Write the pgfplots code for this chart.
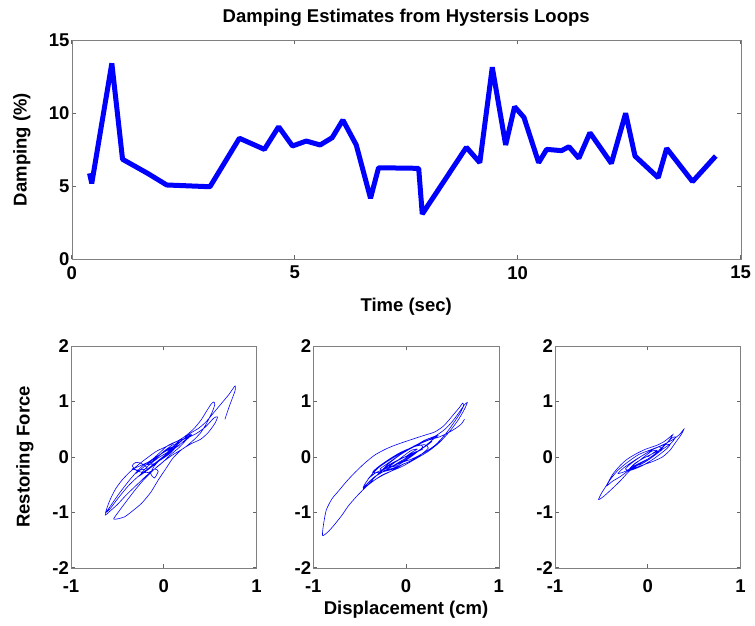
\documentclass[border=0pt]{standalone}
\usepackage{fontspec}
\setmainfont{Liberation Sans}
\usepackage{pgfplots}
\pgfplotsset{compat=1.18}
\pgfplotsset{
  mystyle/.style={
    scale only axis,
    axis line style={black!50},
    every tick/.style={black!60, line width=0.6pt},
    tick align=inside,
    major tick length=4pt,
    tick label style={font=\fontsize{18.5}{20}\selectfont\bfseries},
    xticklabel style={inner sep=2pt},
    yticklabel style={inner sep=2pt},
    label style={font=\fontsize{18.5}{22}\selectfont\bfseries},
    title style={font=\fontsize{18.5}{22}\selectfont\bfseries},
  },
  loopstyle/.style={
    mystyle,
    width=185.5pt, height=221.7pt,
    xmin=-1, xmax=1, ymin=-2, ymax=2,
    xtick={-1,0,1}, xticklabels={-1,0,1},
    ytick={-2,-1,0,1,2}, yticklabels={-2,-1,0,1,2},
    xticklabel style={yshift=-10pt},
  }
}
\begin{document}
\begin{tikzpicture}[x=1pt,y=1pt]
\path[use as bounding box] (0,0) rectangle (755,625);

% ---------- top: damping estimates ----------
\begin{axis}[mystyle,
  at={(71.7pt,366pt)}, anchor=south west,
  width=669pt, height=219pt,
  xmin=0, xmax=15, ymin=0, ymax=15,
  xtick={0,5,10,15}, xticklabels={0,5,10,15},
  ytick={0,5,10,15}, yticklabels={0,5,10,15},
  xticklabel style={yshift=-5pt},
  title={Damping Estimates from Hystersis Loops},
  title style={at={(axis description cs:0.5,1.075)}, anchor=center},
  xlabel={Time (sec)},
  xlabel style={at={(axis description cs:0.5,-0.22)}, anchor=center},
  ylabel={Damping (\%)},
  ylabel style={at={(axis description cs:-0.0743,0.5)}, anchor=center},
]
\addplot[color={rgb,1:red,0;green,0;blue,1}, line width=5pt, line join=bevel] coordinates {
(0.40,5.87) (0.45,5.18) (0.90,13.4) (1.14,6.83) (1.70,5.87) (2.13,5.07)
(3.10,4.95) (3.76,8.27) (4.32,7.51) (4.64,9.06) (4.95,7.74) (5.26,8.08)
(5.57,7.81) (5.84,8.31) (6.08,9.52) (6.38,7.81) (6.70,4.16) (6.88,6.25)
(7.78,6.21) (7.86,3.08) (8.85,7.65) (9.15,6.60) (9.43,13.13) (9.73,7.81)
(9.93,10.43) (10.14,9.70) (10.47,6.60) (10.65,7.51) (10.98,7.42) (11.15,7.69)
(11.37,6.90) (11.62,8.65) (12.10,6.55) (12.42,9.98) (12.63,7.05) (13.15,5.57)
(13.34,7.58) (13.92,5.30) (14.44,7.05)
};
\end{axis}

% ---------- bottom left ----------
\begin{axis}[loopstyle,
  at={(71pt,57.3pt)}, anchor=south west,
  ylabel={Restoring Force},
  ylabel style={at={(axis description cs:-0.248,0.5)}, anchor=center},
]
\addplot[blue, line width=0.6pt, smooth, tension=0.4] coordinates {
(-0.30,-0.30) (-0.20,-0.16) (-0.08,0.00) (0.06,0.14) (0.18,0.28) (0.28,0.38)
(0.20,0.26) (0.08,0.10) (-0.04,-0.06) (-0.16,-0.22) (-0.26,-0.34) (-0.18,-0.18)
(-0.06,-0.02) (0.06,0.10) (0.16,0.20) (0.08,0.16)
(0.00,0.00) (0.06,0.10) (0.10,0.18) (0.04,0.14) (-0.05,0.02) (-0.12,-0.08)
(-0.18,-0.14) (-0.10,-0.12) (0.00,-0.02) (0.08,0.08) (0.14,0.20) (0.10,0.22)
(0.00,0.10) (-0.08,-0.02) (-0.20,-0.12) (-0.28,-0.18) (-0.34,-0.22) (-0.26,-0.24)
(-0.18,-0.20) (-0.24,-0.12) (-0.30,-0.10) (-0.34,-0.16) (-0.28,-0.26) (-0.16,-0.28)
(-0.04,-0.14) (0.06,0.02) (0.16,0.16) (0.24,0.30) (0.30,0.40) (0.22,0.36)
(0.12,0.22) (0.02,0.04) (-0.10,-0.16) (-0.14,-0.30) (-0.10,-0.38) (-0.06,-0.26)
(-0.10,-0.22) (-0.20,-0.36) (-0.30,-0.52) (-0.40,-0.68) (-0.50,-0.86) (-0.58,-0.98)
(-0.63,-1.05) (-0.62,-0.96) (-0.58,-0.78) (-0.52,-0.58) (-0.45,-0.42) (-0.37,-0.28)
(-0.28,-0.15) (-0.18,-0.02) (-0.08,0.10) (0.02,0.18) (0.12,0.26) (0.22,0.36)
(0.32,0.50) (0.40,0.66) (0.46,0.82) (0.51,0.95) (0.54,0.99) (0.55,0.94)
(0.52,0.80) (0.46,0.60) (0.40,0.44) (0.32,0.30) (0.22,0.16) (0.10,0.04)
(0.00,-0.08) (-0.10,-0.22) (-0.22,-0.42) (-0.32,-0.62) (-0.42,-0.84) (-0.50,-1.02)
(-0.54,-1.12) (-0.50,-1.12) (-0.42,-1.08) (-0.34,-0.98) (-0.24,-0.84) (-0.14,-0.64)
(-0.06,-0.42) (0.02,-0.22) (0.10,-0.02) (0.20,0.14) (0.30,0.24) (0.40,0.32)
(0.48,0.44) (0.55,0.60) (0.58,0.72) (0.54,0.70) (0.45,0.54) (0.35,0.42)
(0.25,0.34) (0.14,0.28) (0.04,0.20) (-0.04,0.08) (-0.12,-0.04) (-0.24,-0.18)
(-0.36,-0.40) (-0.48,-0.66) (-0.58,-0.90) (-0.62,-1.00) (-0.58,-0.94) (-0.48,-0.72)
(-0.38,-0.52) (-0.28,-0.36) (-0.16,-0.20) (-0.04,-0.04) (0.08,0.12) (0.16,0.24)
(0.24,0.36) (0.30,0.44) (0.38,0.52) (0.46,0.64) (0.54,0.80) (0.62,0.96)
(0.70,1.12) (0.75,1.24) (0.77,1.28) (0.77,1.20) (0.74,1.06) (0.70,0.88) (0.66,0.68)
};
\end{axis}

% ---------- bottom middle ----------
\begin{axis}[loopstyle,
  at={(313.3pt,57.3pt)}, anchor=south west,
  xlabel={Displacement (cm)},
  xlabel style={at={(axis description cs:0.5,-0.19)}, anchor=center},
]
\addplot[blue, line width=0.6pt, smooth, tension=0.4] coordinates {
(-0.30,-0.30) (-0.18,-0.14) (-0.04,-0.02) (0.10,0.08) (0.22,0.20) (0.28,0.28)
(0.18,0.16) (0.04,0.02) (-0.10,-0.12) (-0.22,-0.24) (-0.32,-0.34) (-0.22,-0.20)
(-0.08,-0.06) (0.06,0.06) (0.18,0.14)
(0.00,0.00) (0.06,0.08) (0.12,0.14) (0.06,0.12) (-0.04,0.00) (-0.12,-0.10)
(-0.18,-0.18) (-0.10,-0.16) (0.00,-0.06) (0.10,0.06) (0.18,0.18) (0.14,0.22)
(0.04,0.14) (-0.08,0.02) (-0.20,-0.12) (-0.28,-0.22) (-0.22,-0.24) (-0.10,-0.18)
(0.04,-0.08) (0.16,0.04) (0.24,0.16) (0.20,0.22) (0.08,0.18) (-0.06,0.08)
(-0.18,-0.04) (-0.30,-0.18) (-0.36,-0.28) (-0.28,-0.28) (-0.14,-0.22) (-0.02,-0.12)
(-0.14,-0.24) (-0.26,-0.34) (-0.36,-0.44) (-0.46,-0.56) (-0.44,-0.48) (-0.36,-0.30)
(-0.26,-0.14) (-0.14,0.00) (0.00,0.12) (0.14,0.24) (0.26,0.32) (0.34,0.38)
(0.28,0.30) (0.18,0.16) (0.06,0.02) (-0.06,-0.10) (-0.20,-0.22) (-0.34,-0.36)
(-0.44,-0.52) (-0.46,-0.58) (-0.42,-0.52) (-0.32,-0.34) (-0.20,-0.14) (-0.06,0.04)
(0.08,0.18) (0.20,0.30) (0.32,0.38) (0.42,0.50) (0.50,0.64) (0.58,0.82)
(0.63,0.94) (0.66,0.98) (0.63,0.86) (0.56,0.66) (0.47,0.46) (0.36,0.26)
(0.24,0.10) (0.10,-0.04) (-0.05,-0.18) (-0.26,-0.33) (-0.41,-0.51) (-0.52,-0.69)
(-0.62,-0.88) (-0.69,-1.05) (-0.78,-1.24) (-0.84,-1.35) (-0.90,-1.42) (-0.89,-1.22)
(-0.86,-0.96) (-0.80,-0.76) (-0.73,-0.62) (-0.64,-0.44) (-0.55,-0.28) (-0.45,-0.12)
(-0.34,0.03) (-0.22,0.14) (-0.12,0.21) (0.00,0.28) (0.09,0.33) (0.20,0.39)
(0.31,0.45) (0.40,0.55) (0.46,0.66) (0.52,0.78) (0.58,0.90) (0.61,0.97)
(0.62,0.92) (0.58,0.78) (0.50,0.58) (0.42,0.40) (0.32,0.22) (0.20,0.08)
(0.06,-0.04) (-0.08,-0.12) (-0.20,-0.20) (-0.32,-0.28) (-0.40,-0.38) (-0.30,-0.20)
(-0.18,-0.06) (-0.04,0.08) (0.10,0.20) (0.24,0.30) (0.36,0.36) (0.46,0.44)
(0.54,0.52) (0.60,0.60) (0.63,0.68)
};
\end{axis}

% ---------- bottom right ----------
\begin{axis}[loopstyle,
  at={(555pt,57.3pt)}, anchor=south west,
]
\addplot[blue, line width=0.6pt, smooth, tension=0.4] coordinates {
(0.00,0.00) (0.05,0.06) (0.10,0.12) (0.04,0.10) (-0.04,0.00) (-0.10,-0.08)
(-0.16,-0.16) (-0.08,-0.14) (0.02,-0.04) (0.10,0.06) (0.16,0.14) (0.12,0.18)
(0.02,0.10) (-0.08,0.00) (-0.18,-0.12) (-0.24,-0.22) (-0.18,-0.24) (-0.06,-0.16)
(0.06,-0.04) (0.14,0.06) (0.20,0.14) (0.24,0.22) (0.18,0.22) (0.06,0.14)
(-0.04,0.04) (-0.14,-0.06) (-0.26,-0.20) (-0.32,-0.30) (-0.24,-0.26) (-0.12,-0.14)
(0.00,-0.04) (-0.10,-0.14) (-0.20,-0.26) (-0.30,-0.44) (-0.40,-0.60) (-0.48,-0.72)
(-0.53,-0.77) (-0.50,-0.66) (-0.44,-0.50) (-0.38,-0.32) (-0.30,-0.16) (-0.22,-0.04)
(-0.12,0.06) (-0.02,0.14) (0.10,0.21) (0.18,0.28) (0.24,0.36) (0.27,0.40)
(0.24,0.32) (0.18,0.20) (0.10,0.08) (0.00,-0.04) (-0.10,-0.14) (-0.20,-0.24)
(-0.30,-0.36) (-0.38,-0.44) (-0.44,-0.52) (-0.40,-0.40) (-0.32,-0.24) (-0.22,-0.10)
(-0.10,0.04) (0.02,0.12) (0.14,0.20) (0.26,0.30) (0.34,0.40) (0.39,0.50)
(0.36,0.40) (0.30,0.26) (0.24,0.12) (0.16,0.00) (0.06,-0.08) (-0.04,-0.14)
(-0.14,-0.20) (-0.22,-0.26) (-0.14,-0.12) (-0.04,-0.02) (0.08,0.08) (0.18,0.16)
(0.26,0.26) (0.30,0.36) (0.26,0.34) (0.20,0.24) (0.12,0.12)
};
\end{axis}
\end{tikzpicture}
\end{document}
